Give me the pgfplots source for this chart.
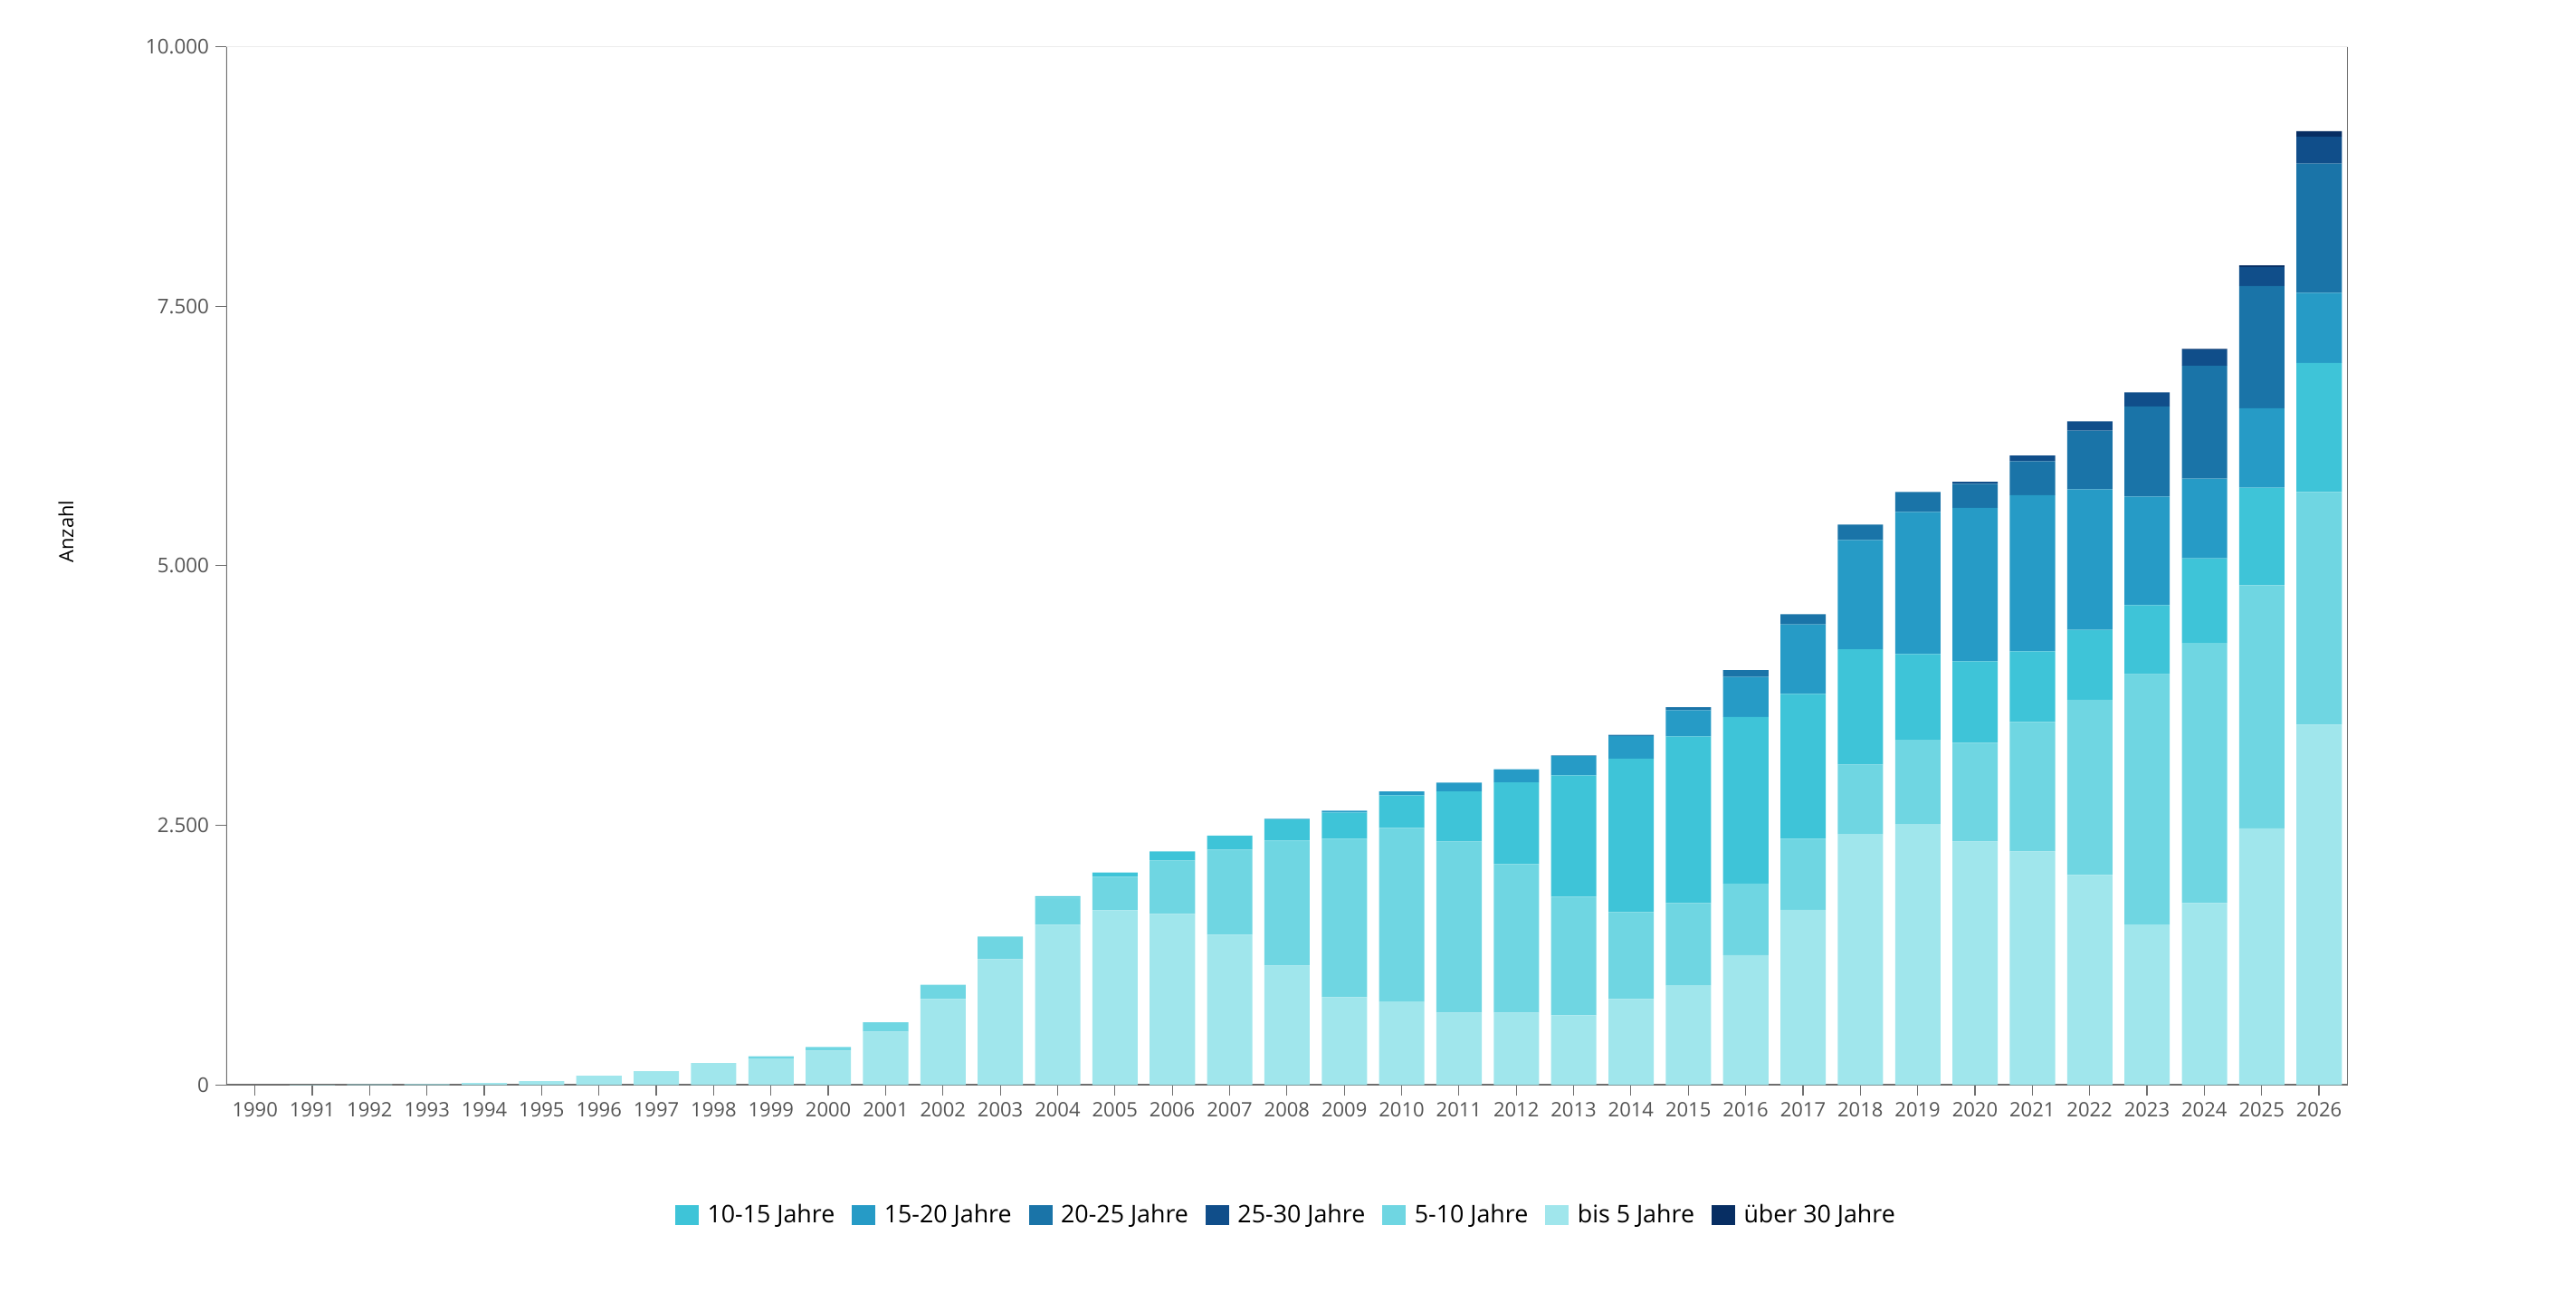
\documentclass[border=0pt]{standalone}
\usepackage{pgfplots}
\pgfplotsset{compat=1.18}
\usepackage{pgfplotstable}
\usepackage{fontspec}
\setmainfont{Open Sans}
\definecolor{ca}{HTML}{A0E6EC}
\definecolor{cb}{HTML}{6FD6E2}
\definecolor{cc}{HTML}{3EC4D8}
\definecolor{cd}{HTML}{269BC6}
\definecolor{ce}{HTML}{1A74A8}
\definecolor{cf}{HTML}{104E8A}
\definecolor{cg}{HTML}{072E63}
\definecolor{axisgray}{HTML}{6E6E6E}
\definecolor{ticklab}{HTML}{555555}
\definecolor{toplight}{HTML}{ECECEC}
\pgfplotstableread{
year a b c d e f g
1990 0 0 0 0 0 0 0
1991 3 0 0 0 0 0 0
1992 6 0 0 0 0 0 0
1993 9 0 0 0 0 0 0
1994 20 0 0 0 0 0 0
1995 38 0 0 0 0 0 0
1996 90 0 0 0 0 0 0
1997 134 0 0 0 0 0 0
1998 212 0 0 0 0 0 0
1999 256 20 0 0 0 0 0
2000 332 35 0 0 0 0 0
2001 514 90 0 0 0 0 0
2002 828 137 0 0 0 0 0
2003 1212 218 0 0 0 0 0
2004 1543 262 14 0 0 0 0
2005 1683 322 41 0 0 0 0
2006 1648 514 87 0 0 0 0
2007 1447 820 136 0 0 0 0
2008 1151 1203 203 6 0 0 0
2009 846 1525 253 18 0 0 0
2010 805 1671 314 38 0 0 0
2011 698 1647 483 84 0 0 0
2012 698 1429 788 125 0 0 0
2013 671 1142 1169 186 5 0 0
2014 828 837 1479 215 12 0 0
2015 962 790 1604 253 29 0 0
2016 1252 689 1604 384 67 0 0
2017 1688 683 1395 669 98 0 0
2018 2418 668 1110 1052 148 0 0
2019 2508 816 826 1368 192 0 0
2020 2345 950 785 1479 230 20 0
2021 2250 1246 680 1505 326 55 0
2022 2022 1688 674 1352 566 88 0
2023 1545 2412 663 1046 869 134 0
2024 1752 2505 816 767 1087 157 5
2025 2472 2340 941 764 1177 183 15
2026 3469 2241 1243 675 1246 259 52
}\data
\begin{document}
\begin{tikzpicture}
\path[use as bounding box] (-125pt,-119.75pt) rectangle (1298pt,599.2pt);
\begin{axis}[
  scale only axis,
  width=1172pt, height=573.5pt,
  ybar stacked,
  bar width=0.79,
  xmin=1989.5, xmax=2026.5,
  ymin=0, ymax=10000,
  xtick={1990,...,2026},
  ytick={0,2500,5000,7500,10000},
  scaled x ticks=false, scaled y ticks=false,
  xtick pos=left, ytick pos=left,
  tick align=outside,
  major tick length=6pt,
  tick style={axisgray, line width=0.6pt},
  axis line style={draw=none},
  xticklabel style={font=\fontsize{11}{13}\selectfont, text=ticklab, /pgf/number format/.cd, 1000 sep={}, assume math mode=true},
  yticklabel style={font=\fontsize{11.2}{13}\selectfont, text=ticklab, /pgf/number format/.cd, fixed, 1000 sep={.}, assume math mode=true},
  ylabel={Anzahl},
  ylabel style={at={(axis description cs:-0.0755,0.533)}, anchor=center, font=\fontsize{10.9}{13}\selectfont, text=black},
  legend columns=7,
  legend style={at={(axis description cs:0.5,-0.125)}, anchor=center, draw=none, fill=none,
    font=\fontsize{13.4}{16}\selectfont, text=black,
    /tikz/every even column/.append style={column sep=7.5pt}},
  legend image code/.code={\fill[#1, draw=none] (0pt,-5.5pt) rectangle (13pt,5.5pt); \path (15.75pt,0pt);},
]
\addplot[fill=ca, draw=none, forget plot] table[x=year, y=a] {\data};
\addplot[fill=cb, draw=none, forget plot] table[x=year, y=b] {\data};
\addplot[fill=cc, draw=none, forget plot] table[x=year, y=c] {\data};
\addplot[fill=cd, draw=none, forget plot] table[x=year, y=d] {\data};
\addplot[fill=ce, draw=none, forget plot] table[x=year, y=e] {\data};
\addplot[fill=cf, draw=none, forget plot] table[x=year, y=f] {\data};
\addplot[fill=cg, draw=none, forget plot] table[x=year, y=g] {\data};
\addlegendimage{fill=cc, draw=none}
\addlegendentry{10-15 Jahre}
\addlegendimage{fill=cd, draw=none}
\addlegendentry{15-20 Jahre}
\addlegendimage{fill=ce, draw=none}
\addlegendentry{20-25 Jahre}
\addlegendimage{fill=cf, draw=none}
\addlegendentry{25-30 Jahre}
\addlegendimage{fill=cb, draw=none}
\addlegendentry{5-10 Jahre}
\addlegendimage{fill=ca, draw=none}
\addlegendentry{bis 5 Jahre}
\addlegendimage{fill=cg, draw=none}
\addlegendentry{über 30 Jahre}
\draw[toplight, line width=0.5pt] (rel axis cs:0,1) -- (rel axis cs:1,1);
\draw[axisgray, line width=1.1pt] (rel axis cs:0,0) -- (rel axis cs:0,1);
\draw[axisgray, line width=1.1pt] (rel axis cs:1,0) -- (rel axis cs:1,1);
\draw[axisgray, line width=1.1pt] (rel axis cs:0,0) -- (rel axis cs:1,0);
\end{axis}
\end{tikzpicture}
\end{document}
